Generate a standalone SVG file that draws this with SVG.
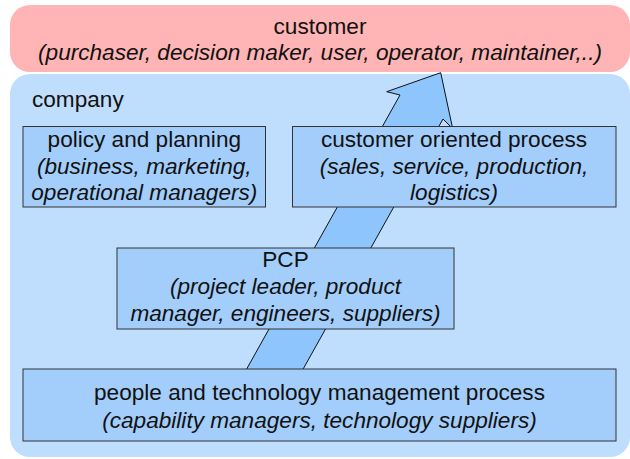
<svg xmlns="http://www.w3.org/2000/svg" width="630" height="459" viewBox="0 0 630 459">
<style>
text{font-family:"Liberation Sans",Arial,sans-serif;font-size:22.6px;fill:#111;text-anchor:middle}
.i{font-style:italic}
.box{fill:#a3cefb;stroke:#333;stroke-width:1}
</style>
<rect width="630" height="459" fill="#ffffff"/>
<g id="customer">
<rect x="10" y="5" width="620" height="67" rx="20" fill="#ffb5b5"/>
<text x="320" y="34">customer</text>
<text class="i" x="320" y="60">(purchaser, decision maker, user, operator, maintainer,..)</text>
</g>
<g id="company">
<rect x="10" y="74" width="620" height="383" rx="20" fill="#bfdefd"/>
<text x="32" y="107" style="text-anchor:start">company</text>
</g>
<g id="connectors">
<polygon points="240.5,380 400,95 386.7,91.7 440.7,72.7 452.7,128.7 443,119 297,380" fill="#8ec5fd" stroke="#111" stroke-width="1" stroke-linejoin="miter"/>
</g>
<g id="policy">
<rect class="box" x="23" y="126.5" width="242.5" height="80.5"/>
<text x="144.3" y="147">policy and planning</text>
<text class="i" x="144.3" y="173.5">(business, marketing,</text>
<text class="i" x="144.3" y="200">operational managers)</text>
</g>
<g id="customer-oriented">
<rect class="box" x="292.5" y="126.5" width="323.5" height="80.5"/>
<text x="454" y="147">customer oriented process</text>
<text class="i" x="454" y="173.5">(sales, service, production,</text>
<text class="i" x="454" y="200">logistics)</text>
</g>
<g id="pcp">
<rect class="box" x="117" y="248" width="337" height="81"/>
<text x="285.5" y="267">PCP</text>
<text class="i" x="285.5" y="294">(project leader, product</text>
<text class="i" x="285.5" y="320.5">manager, engineers, suppliers)</text>
</g>
<g id="people">
<rect class="box" x="23" y="369" width="593" height="72"/>
<text x="319.5" y="400">people and technology management process</text>
<text class="i" x="319.5" y="428">(capability managers, technology suppliers)</text>
</g>
</svg>
